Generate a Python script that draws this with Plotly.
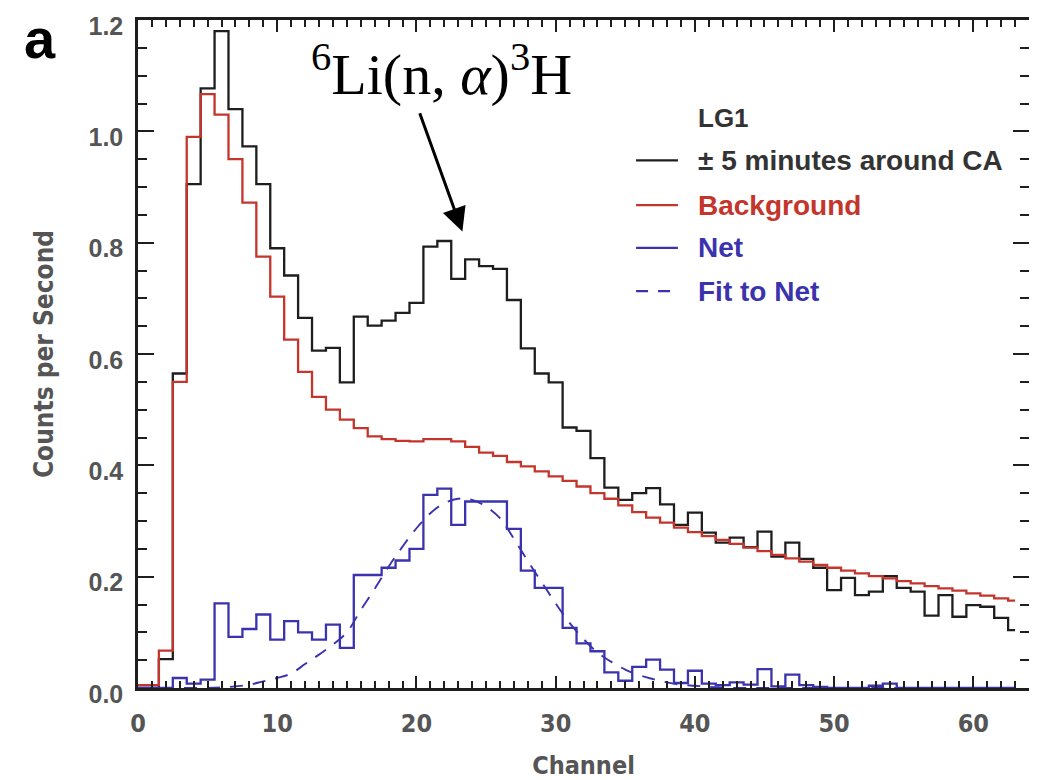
import plotly.graph_objects as go

# ---------------- data ----------------
channels = list(range(64))

total_counts = [0.0, 0.0, 0.052, 0.565, 0.905, 1.077, 1.18, 1.04, 0.973, 0.905,
                0.79, 0.741, 0.665, 0.606, 0.611, 0.549, 0.667, 0.651, 0.66, 0.674,
                0.692, 0.793, 0.803, 0.735, 0.77, 0.758, 0.753, 0.697, 0.61, 0.565,
                0.549, 0.468, 0.462, 0.413, 0.36, 0.338, 0.35, 0.359, 0.33, 0.293,
                0.315, 0.279, 0.261, 0.27, 0.253, 0.281, 0.236, 0.261, 0.232, 0.216,
                0.176, 0.198, 0.167, 0.173, 0.201, 0.18, 0.173, 0.13, 0.167, 0.128,
                0.149, 0.146, 0.126, 0.104]

background = [0.005, 0.005, 0.067, 0.55, 0.99, 1.067, 1.03, 0.95, 0.872, 0.775,
              0.703, 0.626, 0.568, 0.523, 0.50, 0.482, 0.467, 0.452, 0.447, 0.444,
              0.443, 0.447, 0.447, 0.443, 0.433, 0.423, 0.417, 0.406, 0.398, 0.389,
              0.38, 0.372, 0.362, 0.350, 0.340, 0.328, 0.316, 0.306, 0.297, 0.288,
              0.280, 0.273, 0.266, 0.259, 0.252, 0.246, 0.239, 0.233, 0.227, 0.221,
              0.216, 0.211, 0.206, 0.201, 0.197, 0.192, 0.188, 0.183, 0.179, 0.175,
              0.170, 0.166, 0.161, 0.157]

net = [0.0, 0.0, 0.0, 0.018, 0.008, 0.015, 0.152, 0.092, 0.106, 0.132,
       0.087, 0.12, 0.10, 0.087, 0.114, 0.072, 0.203, 0.203, 0.216, 0.229,
       0.25, 0.347, 0.358, 0.293, 0.335, 0.335, 0.335, 0.286, 0.211, 0.18,
       0.18, 0.108, 0.08, 0.066, 0.028, 0.013, 0.038, 0.051, 0.033, 0.009,
       0.031, 0.008, 0.005, 0.01, 0.006, 0.034, 0.003, 0.024, 0.005, 0.002,
       0.0, 0.0, 0.0, 0.004, 0.008, 0.0, 0.0, 0.0, 0.0, 0.0,
       0.0, 0.0, 0.0, 0.0]

fit_to_net = [0.0, 0.0, 0.0, 0.0, 0.0, 0.0, 0.001, 0.003, 0.006, 0.012,
              0.018, 0.026, 0.043, 0.06, 0.078, 0.10, 0.14, 0.178, 0.218, 0.254,
              0.287, 0.314, 0.332, 0.34, 0.338, 0.326, 0.305, 0.268, 0.228, 0.19,
              0.152, 0.117, 0.088, 0.064, 0.047, 0.033, 0.023, 0.016, 0.01, 0.006,
              0.004, 0.002, 0.001, 0.0, 0.0, 0.0, 0.0, 0.0, 0.0, 0.0,
              0.0, 0.0, 0.0, 0.0, 0.0, 0.0, 0.0, 0.0, 0.0, 0.0,
              0.0, 0.0, 0.0, 0.0]

y_ticks = [0.0, 0.2, 0.4, 0.6, 0.8, 1.0, 1.2]
x_ticks = [0, 10, 20, 30, 40, 50, 60]

legend_title = "LG1"
legend_labels = ["± 5 minutes around CA", "Background", "Net", "Fit to Net"]

# ---------------- styles ----------------
BLACK = "#1e1e1e"
RED = "#c4352c"
BLUE = "#3b33ad"
GRAY = "#555555"
SANS = "Liberation Sans, Arial, sans-serif"
NARROW = "Liberation Sans Narrow, DejaVu Sans Condensed, Liberation Sans, Arial, sans-serif"

fig = go.Figure()
fig.add_trace(go.Scatter(x=channels, y=total_counts, mode="lines",
                         line=dict(color=BLACK, width=2.3, shape="hvh"),
                         name=legend_labels[0], showlegend=False))
fig.add_trace(go.Scatter(x=channels, y=background, mode="lines",
                         line=dict(color=RED, width=2.3, shape="hvh"),
                         name=legend_labels[1], showlegend=False))
fig.add_trace(go.Scatter(x=channels, y=net, mode="lines",
                         line=dict(color=BLUE, width=2.3, shape="hvh"),
                         name=legend_labels[2], showlegend=False))
fig.add_trace(go.Scatter(x=channels, y=fit_to_net, mode="lines",
                         line=dict(color=BLUE, width=1.9, dash="13px,10px", shape="spline"),
                         name=legend_labels[3], showlegend=False))

axis_common = dict(showline=True, linecolor=BLACK, linewidth=2.5, mirror="allticks",
                   ticks="inside", tickcolor=BLACK, tickwidth=2, showgrid=False,
                   zeroline=False, automargin=False, ticklabeloverflow="allow")

fig.update_xaxes(range=[0, 64], tickvals=x_ticks, ticklen=12,
                 minor=dict(dtick=1, ticklen=7, ticks="inside", tickcolor=BLACK, tickwidth=1.5),
                 tickfont=dict(family=NARROW, size=25, color=GRAY, weight="bold"),
                 ticklabelstandoff=11,
                 title=dict(text="Channel", font=dict(family=NARROW, size=25, color=GRAY, weight="bold"),
                            standoff=22),
                 **axis_common)
fig.update_yaxes(range=[0, 1.2], tickvals=y_ticks, tickformat=".1f", ticklen=16,
                 minor=dict(dtick=0.05, ticklen=9, ticks="inside", tickcolor=BLACK, tickwidth=1.5),
                 tickfont=dict(family=SANS, size=25, color=GRAY, weight="bold"),
                 ticklabelstandoff=7, ticklabelshift=6,
                 title=dict(text="Counts per Second", font=dict(family=NARROW, size=26, color=GRAY, weight="bold"),
                            standoff=28),
                 **axis_common)

# ---------------- legend (drawn as annotations + shapes) ----------------
legend_colors = [BLACK, RED, BLUE, BLUE]
legend_text_colors = ["#333333", RED, BLUE, BLUE]
legend_dash = ["solid", "solid", "solid", "dash"]
legend_y = [0.790, 0.723, 0.659, 0.594]
fig.add_annotation(xref="paper", yref="paper", x=0.626, y=0.853, xanchor="left", yanchor="middle",
                   text=legend_title, showarrow=False,
                   font=dict(family=SANS, size=26, color="#333333", weight="bold"))
for lab, col, tcol, dsh, yy in zip(legend_labels, legend_colors, legend_text_colors, legend_dash, legend_y):
    fig.add_shape(type="line", xref="paper", yref="paper", x0=0.559, x1=0.606, y0=yy, y1=yy,
                  line=dict(color=col, width=2.3, dash="12px,10px" if dsh == "dash" else "solid"))
    fig.add_annotation(xref="paper", yref="paper", x=0.626, y=yy, xanchor="left", yanchor="middle",
                       text=lab, showarrow=False,
                       font=dict(family=SANS, size=28, color=tcol, weight="bold"))

# ---------------- reaction label with arrow ----------------
fig.add_annotation(x=23.3, y=0.82, ax=20.2, ay=1.035, xref="x", yref="y", axref="x", ayref="y",
                   text="", showarrow=True, arrowhead=2, arrowsize=1.6, arrowwidth=3,
                   arrowcolor="#000000", standoff=0)
fig.add_annotation(x=21.8, y=1.11, xref="x", yref="y", xanchor="center", yanchor="middle",
                   text="<sup>6</sup>Li(n, <i>α</i>)<sup>3</sup>H", showarrow=False,
                   font=dict(family="Liberation Serif, Times New Roman, serif", size=58, color="#000000"))

# panel letter
fig.add_annotation(xref="paper", yref="paper", x=-0.13, y=1.022, xanchor="left", yanchor="top",
                   text="a", showarrow=False,
                   font=dict(family=SANS, size=56, color="#000000", weight="bold"))

# The page body adds an 8px offset, so the figure is sized to fill the window from there.
fig.update_layout(width=1029, height=772, autosize=False,
                  margin=dict(l=130, r=8, t=12, b=92),
                  plot_bgcolor="white", paper_bgcolor="white", showlegend=False)

fig.write_html("out.html")
